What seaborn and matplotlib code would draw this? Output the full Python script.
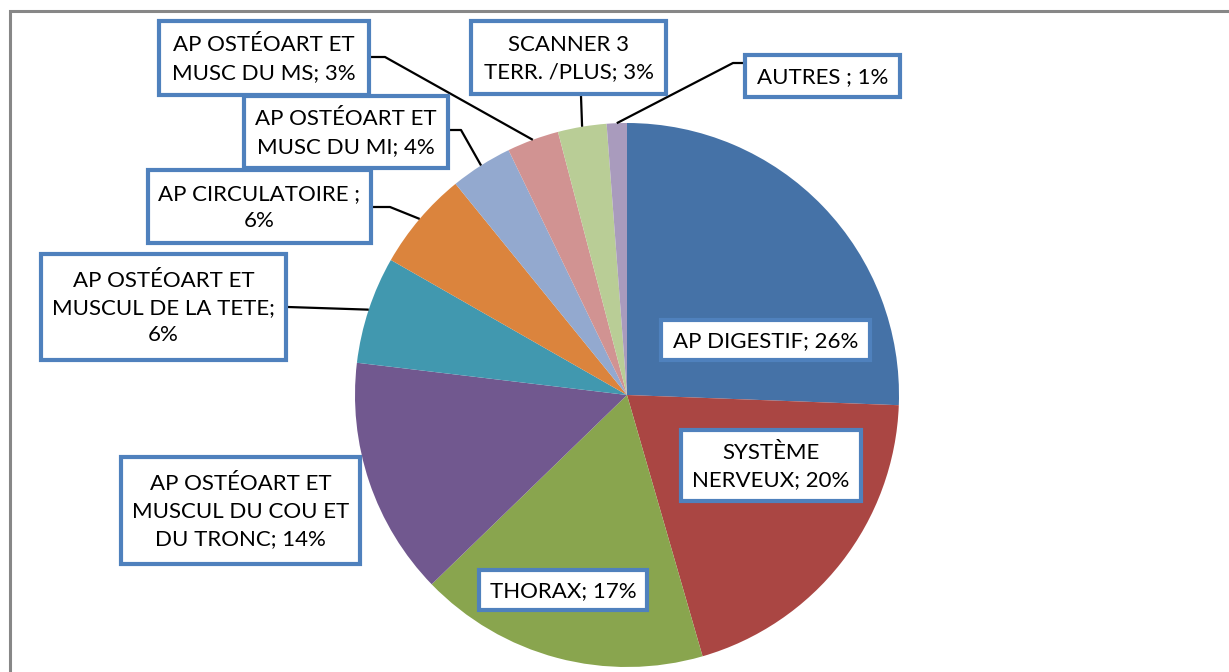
import matplotlib
matplotlib.use("Agg")
import matplotlib.pyplot as plt
from matplotlib.patches import Rectangle
import numpy as np
import seaborn as sns

# ---------------- data ----------------
categories = ["AP DIGESTIF", "SYSTÈME NERVEUX", "THORAX",
              "AP OSTÉOART ET MUSCUL DU COU ET DU TRONC",
              "AP OSTÉOART ET MUSCUL DE LA TETE", "AP CIRCULATOIRE",
              "AP OSTÉOART ET MUSC DU MI", "AP OSTÉOART ET MUSC DU MS",
              "SCANNER 3 TERR. /PLUS", "AUTRES"]
shares = [25.7, 20.0, 17.3, 14.2, 6.4, 5.9, 3.7, 3.1, 2.9, 1.2]
# label text as wrapped in the chart
label_names = ["AP DIGESTIF", "SYSTÈME\nNERVEUX", "THORAX",
               "AP OSTÉOART ET\nMUSCUL DU COU ET\nDU TRONC",
               "AP OSTÉOART ET\nMUSCUL DE LA TETE", "AP CIRCULATOIRE ",
               "AP OSTÉOART ET\nMUSC DU MI", "AP OSTÉOART ET\nMUSC DU MS",
               "SCANNER 3\nTERR. /PLUS", "AUTRES "]
label_seps = ["; ", "; ", "; ", "; ", ";\n", ";\n", "; ", "; ", "; ", "; "]

colors = ["#4572A7", "#AA4643", "#89A54E", "#71588F", "#4198AF",
          "#DB843D", "#93A9CF", "#D19392", "#B9CD96", "#A99BBD"]

# ---------------- layout (pixels) ----------------
W, H = 1229, 672
CX, CY, R = 627, 395, 272
# label boxes (x0, y0, x1, y1) in pixel coordinates
boxes = [(661, 320, 870, 360), (681, 430, 861, 501), (479, 570, 647, 610),
         (121, 457, 360, 564), (41, 254, 286, 360), (148, 170, 371, 243),
         (244, 96, 448, 168), (159, 21, 369, 95), (471, 21, 666, 94),
         (745, 55, 900, 97)]
# leader line anchor points (start on box, elbow); None = no leader
leaders = [None, None, None, None,
           [(288, 307)],
           [(373, 207), (390, 207)],
           [(450, 130), (461, 130)],
           [(371, 57), (385, 57)],
           [(581, 96)],
           [(743, 63), (733, 63)]]


def px(x):
    return (x - CX) / R


def py(y):
    return (CY - y) / R


sns.set_theme(style="white")
plt.rcParams["font.family"] = ["Lato", "DejaVu Sans"]
palette = sns.color_palette(colors)

fig = plt.figure(figsize=(W / 100, H / 100), dpi=100)
fig.patch.set_facecolor("white")
ax = fig.add_axes([0, 0, 1, 1])

wedges, _ = ax.pie(shares, colors=palette, startangle=90, counterclock=False,
                   radius=1, center=(0, 0), wedgeprops=dict(linewidth=0))
ax.set_aspect("auto")
ax.set_xlim(px(0), px(W))
ax.set_ylim(py(H), py(0))
ax.axis("off")

total = sum(shares)
for i, w in enumerate(wedges):
    pct = int(round(shares[i] / total * 100))
    text = f"{label_names[i]}{label_seps[i]}{pct}%"
    x0, y0, x1, y1 = boxes[i]
    rect = Rectangle((px(x0), py(y1)), px(x1) - px(x0), py(y0) - py(y1),
                     facecolor="white", edgecolor="#4F81BD", linewidth=3,
                     zorder=5)
    ax.add_patch(rect)
    ax.text(px((x0 + x1) / 2), py((y0 + y1) / 2 + 1), text, ha="center",
            va="center", multialignment="center", fontsize=16,
            linespacing=1.45, color="black", zorder=6)
    if leaders[i] is not None:
        mid = np.deg2rad((w.theta1 + w.theta2) / 2)
        xs = [px(p[0]) for p in leaders[i]] + [np.cos(mid)]
        ys = [py(p[1]) for p in leaders[i]] + [np.sin(mid)]
        ax.plot(xs, ys, color="black", linewidth=1.6, zorder=4,
                solid_capstyle="butt")

# outer chart border (only top/left visible)
fig.patches.append(Rectangle((9.5 / W, -0.1), 1.2, 1 - 11 / H + 0.1,
                             transform=fig.transFigure, fill=False,
                             edgecolor="#878787", linewidth=2.2))

fig.savefig("out.png", dpi=100, facecolor="white")
